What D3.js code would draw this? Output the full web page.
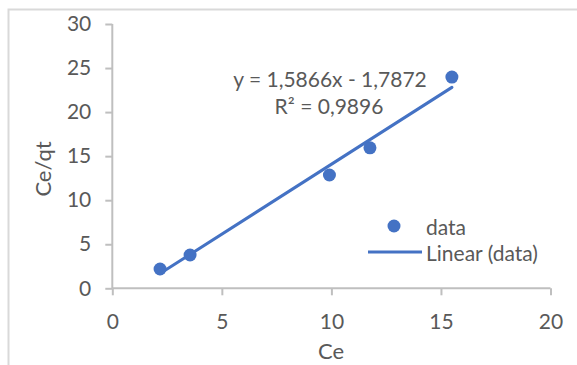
<!DOCTYPE html>
<html>
<head>
<meta charset="utf-8">
<script src="https://cdn.jsdelivr.net/npm/d3@7"></script>
<style>
  body { margin: 0; background: #fff; }
  text { font-family: Lato, "Open Sans", sans-serif; fill: #595959; }
</style>
</head>
<body>
<div id="canvas"></div>
<script>
// data
const ce = [2.18, 3.55, 9.91, 11.76, 15.5];
const ceqt = [2.19, 3.78, 12.86, 15.94, 23.98];
const xTicks = [0, 5, 10, 15, 20];
const yTicks = [0, 5, 10, 15, 20, 25, 30];
const slope = 1.5866;
const intercept = -1.7872;
const eqLabel = "y = 1,5866x - 1,7872";
const r2Label = "R² = 0,9896";

const width = 577;
const height = 365;
const blue = "#4472c4";

const svg = d3.select("#canvas").append("svg")
    .attr("width", width)
    .attr("height", height);

// chart area border (only top and left visible)
svg.append("rect")
    .attr("x", 8.5).attr("y", 9.5)
    .attr("width", 600).attr("height", 400)
    .attr("fill", "none")
    .attr("stroke", "#d9d9d9")
    .attr("stroke-width", 2);

const x = d3.scaleLinear().domain([0, 20]).range([112.3, 550.5]);
const y = d3.scaleLinear().domain([0, 30]).range([288.3, 24]);

const xAxis = svg.append("g")
    .attr("transform", `translate(0,${y(0)})`)
    .call(d3.axisBottom(x).tickValues(xTicks).tickSize(7).tickPadding(19));

const yAxis = svg.append("g")
    .attr("transform", `translate(${x(0)},0)`)
    .call(d3.axisLeft(y).tickValues(yTicks).tickSize(7).tickPadding(14));

[xAxis, yAxis].forEach(a => {
    a.selectAll("path, line").attr("stroke", "#bfbfbf").attr("stroke-width", 2);
    a.select(".domain").attr("d", a === xAxis
        ? `M${x(0)},0H${x(20)}`
        : `M0,${y(0)}V${y(30)}`);
    a.selectAll("text").style("font-size", "21px").attr("fill", "#595959")
        .style("font-family", "Lato, sans-serif");
});

// axis titles
svg.append("text")
    .attr("x", 331).attr("y", 350)
    .attr("text-anchor", "middle").attr("dominant-baseline", "central")
    .style("font-size", "22px")
    .text("Ce");

svg.append("text")
    .attr("transform", "translate(42,169) rotate(-90)")
    .attr("text-anchor", "middle").attr("dominant-baseline", "central")
    .style("font-size", "22px")
    .text("Ce/qt");

// trend line
const x0 = d3.min(ce), x1 = d3.max(ce);
svg.append("line")
    .attr("x1", x(x0)).attr("y1", y(slope * x0 + intercept))
    .attr("x2", x(x1)).attr("y2", y(slope * x1 + intercept))
    .attr("stroke", blue).attr("stroke-width", 3)
    .attr("stroke-linecap", "round");

// points
svg.selectAll("circle.pt")
    .data(d3.zip(ce, ceqt))
    .enter().append("circle")
    .attr("class", "pt")
    .attr("cx", d => x(d[0]))
    .attr("cy", d => y(d[1]))
    .attr("r", 6.5)
    .attr("fill", blue);

// equation
svg.append("text")
    .attr("x", 330).attr("y", 78)
    .attr("text-anchor", "middle").attr("dominant-baseline", "central")
    .style("font-size", "21px")
    .text(eqLabel);
svg.append("text")
    .attr("x", 329).attr("y", 105)
    .attr("text-anchor", "middle").attr("dominant-baseline", "central")
    .style("font-size", "21px")
    .text(r2Label);

// legend
svg.append("circle")
    .attr("cx", 394).attr("cy", 226).attr("r", 6.5).attr("fill", blue);
svg.append("text")
    .attr("x", 426).attr("y", 226)
    .attr("dominant-baseline", "central")
    .style("font-size", "21px")
    .text("data");
svg.append("line")
    .attr("x1", 368).attr("x2", 422).attr("y1", 252).attr("y2", 252)
    .attr("stroke", blue).attr("stroke-width", 3);
svg.append("text")
    .attr("x", 426).attr("y", 252)
    .attr("dominant-baseline", "central")
    .style("font-size", "21px")
    .text("Linear (data)");
</script>
</body>
</html>
